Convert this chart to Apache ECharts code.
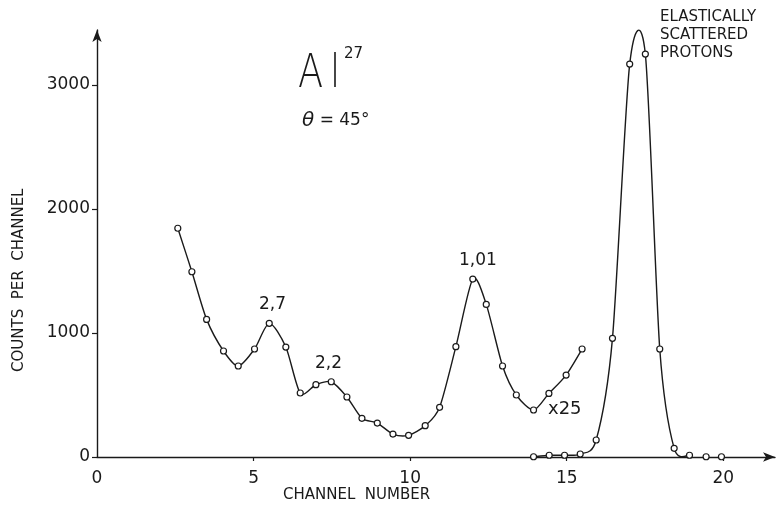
<!DOCTYPE html>
<html>
<head>
<meta charset="utf-8">
<title>Al27 spectrum</title>
<script src="https://cdn.jsdelivr.net/npm/echarts@6/dist/echarts.min.js"></script>
<style>
  html, body { margin: 0; padding: 0; background: #fff; }
  #spectrumChart { width: 782px; height: 517px; }
</style>
</head>
<body>
<div id="spectrumChart"></div>
<script>
// inelastic part, drawn x25
var chanUpper   = [2.58, 3.03, 3.5, 4.04, 4.51, 5.03, 5.5, 6.03, 6.49, 6.99, 7.48, 7.98, 8.46, 8.95, 9.45, 9.95, 10.48, 10.94, 11.46, 12.0, 12.43, 12.95, 13.39, 13.94, 14.43, 14.98, 15.49];
var countsUpper = [1845, 1494, 1110, 855, 734, 871, 1078, 887, 516, 583, 607, 484, 312, 274, 185, 175, 253, 401, 890, 1435, 1231, 734, 500, 379, 513, 661, 871];

// elastic peak, scale x1
var chanElastic   = [13.94, 14.44, 14.93, 15.43, 15.94, 16.46, 17.01, 17.51, 17.97, 18.43, 18.92];
var countsElastic = [2, 14, 14, 24, 137, 957, 3169, 3250, 871, 70, 14];

// last points, no curve through them
var chanTail   = [19.45, 19.94];
var countsTail = [2, 2];

var xTickVals = [0, 5, 10, 15, 20];
var yTickVals = [0, 1000, 2000, 3000];

var INK = '#1a1a1a';
var FONT = 'DejaVu Sans';

function toPairs(xs, ys)
{
	var out = [];
	for (var i = 0; i < xs.length; i++) {
		out.push([xs[i], ys[i]]);
	}
	return out;
}

// hand drawn looking curve: catmull-rom segments through the points
function curveItem(xs, ys)
{
	var n = xs.length;
	var k = 0.8 / 6;
	return function (params, api) {
		var i = params.dataIndex;
		if (i >= n - 1) return null;
		var a = Math.max(i - 1, 0), d = Math.min(i + 2, n - 1);
		var p0 = api.coord([xs[a], ys[a]]);
		var p1 = api.coord([xs[i], ys[i]]);
		var p2 = api.coord([xs[i + 1], ys[i + 1]]);
		var p3 = api.coord([xs[d], ys[d]]);
		return {
			type: 'bezierCurve',
			shape: {
				x1: p1[0], y1: p1[1],
				cpx1: p1[0] + (p2[0] - p0[0]) * k, cpy1: p1[1] + (p2[1] - p0[1]) * k,
				cpx2: p2[0] - (p3[0] - p1[0]) * k, cpy2: p2[1] - (p3[1] - p1[1]) * k,
				x2: p2[0], y2: p2[1]
			},
			style: { fill: 'none', stroke: INK, lineWidth: 1.4 }
		};
	};
}

function circles(xs, ys)
{
	return {
		type: 'scatter',
		data: toPairs(xs, ys),
		symbol: 'circle',
		symbolSize: 6,
		itemStyle: { color: '#fff', borderColor: INK, borderWidth: 1.2, opacity: 1 },
		z: 5,
		silent: true
	};
}

function plainNum(v)
{
	return String(v);
}

var txt = { fill: INK, fontFamily: FONT };

var option = {
	backgroundColor: '#fff',
	animation: false,
	grid: { left: 97, right: 7, top: 30, bottom: 60, containLabel: false },
	xAxis: {
		type: 'value',
		min: 0,
		max: 21.65,
		axisLine: { show: true, symbol: ['none', 'arrow'], symbolSize: [7, 12], lineStyle: { color: INK, width: 1.4 } },
		axisTick: { show: true, customValues: [5, 10, 15, 20], length: 4, lineStyle: { color: INK, width: 1.2 } },
		axisLabel: { customValues: xTickVals, formatter: plainNum, color: INK, fontFamily: FONT, fontSize: 17, margin: 13 },
		splitLine: { show: false }
	},
	yAxis: {
		type: 'value',
		min: 0,
		max: 3444,
		axisLine: { show: true, symbol: ['none', 'arrow'], symbolSize: [7, 12], lineStyle: { color: INK, width: 1.4 } },
		axisTick: { show: true, customValues: yTickVals, length: 5, lineStyle: { color: INK, width: 1.2 } },
		axisLabel: { customValues: yTickVals, formatter: plainNum, color: INK, fontFamily: FONT, fontSize: 17, margin: 7 },
		splitLine: { show: false }
	},
	graphic: [
		{ type: 'text', left: 283, top: 488, style: Object.assign({ text: 'CHANNEL  NUMBER', fontSize: 15 }, txt) },
		{ type: 'text', x: 12, y: 372, rotation: Math.PI / 2, style: Object.assign({ text: 'COUNTS  PER  CHANNEL', fontSize: 15 }, txt) },
		{ type: 'text', x: 298, y: 52, scaleX: 0.8, style: Object.assign({ text: 'A', fontSize: 46, fontWeight: 200 }, txt) },
		{ type: 'text', x: 330, y: 52, scaleX: 0.8, style: Object.assign({ text: 'l', fontSize: 46, fontWeight: 200 }, txt) },
		{ type: 'text', x: 344, y: 47, style: Object.assign({ text: '27', fontSize: 15 }, txt) },
		{ type: 'text', x: 302, y: 111, style: Object.assign({ text: '{i|θ} = 45°', fontSize: 17,
			rich: { i: { fontStyle: 'italic', fontSize: 20, fontFamily: FONT, fill: INK } } }, txt) },
		{ type: 'text', x: 259, y: 296, style: Object.assign({ text: '2,7', fontSize: 17 }, txt) },
		{ type: 'text', x: 315, y: 355, style: Object.assign({ text: '2,2', fontSize: 17 }, txt) },
		{ type: 'text', x: 459, y: 252, style: Object.assign({ text: '1,01', fontSize: 17 }, txt) },
		{ type: 'text', x: 548, y: 400, style: Object.assign({ text: 'x25', fontSize: 18 }, txt) },
		{ type: 'text', x: 660, y: 8, style: Object.assign({ text: 'ELASTICALLY\nSCATTERED\nPROTONS', fontSize: 15, lineHeight: 18 }, txt) }
	],
	series: [
		{
			type: 'custom',
			data: toPairs(chanUpper, countsUpper),
			encode: { x: 0, y: 1 },
			renderItem: curveItem(chanUpper, countsUpper),
			silent: true
		},
		{
			type: 'custom',
			data: toPairs(chanElastic, countsElastic),
			encode: { x: 0, y: 1 },
			renderItem: curveItem(chanElastic, countsElastic),
			silent: true
		},
		circles(chanUpper, countsUpper),
		circles(chanElastic, countsElastic),
		circles(chanTail, countsTail)
	]
};

var spectrumChart = echarts.init(document.getElementById('spectrumChart'));
spectrumChart.setOption(option);
</script>
</body>
</html>
